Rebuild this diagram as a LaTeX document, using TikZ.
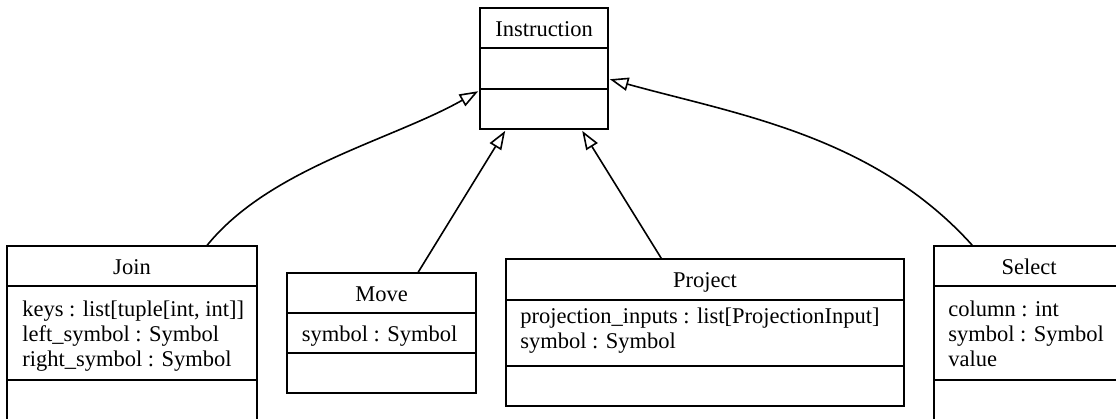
\documentclass[tikz,border=0pt]{standalone}
\usepackage{fontspec}
\setmainfont{Liberation Serif}
\usetikzlibrary{arrows.meta,calc,fit}
\begin{document}
\begin{tikzpicture}[x=0.75pt,y=-0.75pt,
  box/.style={draw, line width=1.2pt, inner sep=0pt},
  rule/.style={line width=1.2pt},
  lbl/.style={inner sep=0pt, anchor=base, font=\fontsize{16.875}{18.75}\selectfont},
  attr/.style={lbl, anchor=base west},
  inh/.style={line width=1.2pt, -{Triangle[open, length=14pt, width=10pt]}}]
\useasboundingbox (0,0) rectangle (1116,418);
\clip (0,0) rectangle (1116,418);

% Instruction (base class)
\node[box, fit={(480,8)(608,129)}] (instr) {};
\node[lbl] (instr-name) at (544,36) {Instruction};
\draw[rule] (480,48) -- (608,48);
\draw[rule] (480,89) -- (608,89);

% Join
\node[box, fit={(7,246)(257,424)}] (join) {};
\node[lbl] (join-name) at (132,274) {Join};
\draw[rule] (7,286) -- (257,286);
\draw[rule] (7,380) -- (257,380);
\node[attr] (join-a1) at (22,316) {keys : list[tuple[int, int]]};
\node[attr] (join-a2) at (22,341) {left\_symbol : Symbol};
\node[attr] (join-a3) at (22,366) {right\_symbol : Symbol};

% Move
\node[box, fit={(287,273)(476,393)}] (move) {};
\node[lbl] (move-name) at (381.5,301) {Move};
\draw[rule] (287,313) -- (476,313);
\draw[rule] (287,353) -- (476,353);
\node[attr] (move-a1) at (301.5,341) {symbol : Symbol};

% Project
\node[box, fit={(506,259)(904,406)}] (project) {};
\node[lbl] (project-name) at (705,287.5) {Project};
\draw[rule] (506,300) -- (904,300);
\draw[rule] (506,366) -- (904,366);
\node[attr] (project-a1) at (520,323) {projection\_inputs : list[ProjectionInput]};
\node[attr] (project-a2) at (520,348) {symbol : Symbol};

% Select
\node[box, fit={(934,246)(1124,424)}] (select) {};
\node[lbl] (select-name) at (1029,274) {Select};
\draw[rule] (934,286) -- (1124,286);
\draw[rule] (934,380) -- (1124,380);
\node[attr] (select-a1) at (948,316) {column : int};
\node[attr] (select-a2) at (948,341) {symbol : Symbol};
\node[attr] (select-a3) at (948,366) {value};

% Generalisation arrows
\draw[inh] ($(join.north west)+(201,0)$) .. controls (270,168) and (392,140) .. ($(instr.north west)+(-1,84)$);
\draw[inh] ($(move.north west)+(132,0)$) -- ($(instr.south west)+(26,1)$);
\draw[inh] ($(project.north west)+(156,0)$) -- ($(instr.south west)+(103,1)$);
\draw[inh] ($(select.north west)+(39,0)$) .. controls (873,135) and (735,114) .. ($(instr.north east)+(1,72)$);
\end{tikzpicture}
\end{document}
